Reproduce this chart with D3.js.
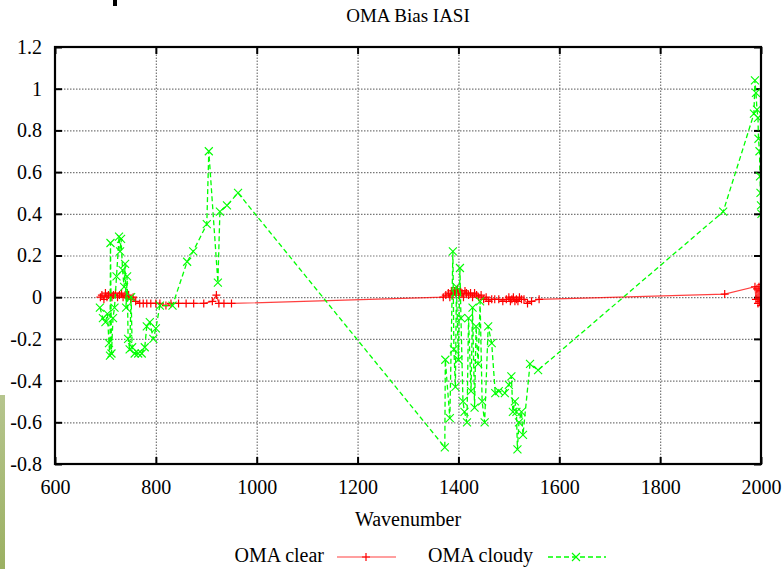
<!DOCTYPE html>
<html lang='en'>
  <head>
    <style type='text/css'>
      body {margin: 0; background-color: #fff;}
    </style>
  </head>
  <body>
    <svg id='chart' width='784' height='569' font-family='Liberation Serif'></svg>

    <script src='https://d3js.org/d3.v7.min.js'></script>
    <script type='text/javascript'>
        // Data
        var clearWave = [690, 693, 697, 700, 703, 706, 710, 713, 716, 720, 724, 728, 732, 735, 739, 742, 746, 750, 755, 760,
          768, 775, 782, 790, 800, 808, 820, 830, 845, 860, 875, 895, 912, 920, 925, 935, 950,
          1370, 1375, 1380, 1383, 1386, 1389, 1392, 1395, 1398, 1401, 1404, 1407, 1410, 1413, 1416, 1420, 1424, 1428,
          1432, 1436, 1440, 1445, 1450, 1455, 1460, 1466, 1472, 1480, 1488, 1495, 1500, 1503, 1506, 1509, 1512, 1515,
          1518, 1521, 1525, 1530, 1537, 1545, 1560, 1928, 1988, 1990, 1992, 1994, 1996, 1997, 1999, 2000, 2001];
        var clearBias = [0.0, 0.01, -0.01, 0.02, 0.0, 0.01, 0.02, 0.0, 0.01, 0.02, 0.0, 0.01, 0.02, 0.0, 0.01, 0.0, 0.01, -0.01, 0.0, -0.02,
          -0.03, -0.03, -0.03, -0.03, -0.03, -0.03, -0.04, -0.03, -0.03, -0.03, -0.03, -0.03, -0.02, 0.01, -0.03, -0.03, -0.03,
          0.0, 0.01, 0.02, 0.0, 0.03, 0.01, 0.03, 0.02, 0.04, 0.01, 0.03, 0.02, 0.0, 0.03, 0.02, 0.01, 0.02, 0.0,
          0.02, 0.01, 0.0, 0.01, -0.01, 0.0, -0.02, -0.01, -0.01, -0.01, -0.02, -0.01, 0.0, -0.02, -0.01, 0.0, -0.02, -0.01,
          -0.02, 0.0, -0.01, -0.01, -0.03, -0.02, -0.01, 0.015, 0.05, -0.01, 0.04, -0.03, 0.05, -0.02, 0.03, -0.04, 0.06];

        var cloudyWave = [689, 695, 700, 704, 707, 709, 710, 712, 715, 718, 722, 727, 729, 731, 734, 737, 739, 741, 743, 745,
          748, 751, 753, 758, 765, 772, 778, 782, 788, 795, 800, 808, 833, 862, 874, 901, 905, 923, 927, 941, 963,
          1373, 1374, 1383, 1389, 1391, 1394, 1396, 1400, 1403, 1405, 1409, 1412, 1417, 1420, 1425, 1428, 1432, 1435,
          1439, 1443, 1447, 1452, 1459, 1466, 1473, 1480, 1492, 1500, 1505, 1508, 1512, 1515, 1517, 1520, 1525, 1528,
          1542, 1558, 1925, 1986, 1988, 1990, 1992, 1994, 1995, 1997, 1998, 1999, 2000, 2001];
        var cloudyBias = [-0.05, -0.10, -0.12, -0.08, -0.22, -0.28, 0.26, -0.27, -0.10, -0.05, 0.10, 0.29, 0.22, 0.28, 0.13, 0.05, 0.16, -0.05, 0.10, -0.20,
          -0.25, 0.0, -0.24, -0.27, -0.27, -0.27, -0.24, -0.14, -0.12, -0.20, -0.15, -0.04, -0.04, 0.17, 0.22, 0.35, 0.70, 0.07, 0.41, 0.44, 0.50,
          -0.72, -0.30, -0.58, 0.22, -0.25, -0.43, 0.05, -0.30, 0.14, -0.10, -0.50, -0.55, -0.60, -0.10, -0.45, -0.05, -0.53, -0.14,
          -0.32, -0.02, -0.50, -0.60, -0.14, -0.22, -0.46, -0.45, -0.46, -0.42, -0.38, -0.55, -0.50, -0.55, -0.73, -0.60, -0.55, -0.66,
          -0.32, -0.35, 0.41, 0.88, 1.04, 0.98, 0.90, 0.86, 0.76, 0.70, 0.58, 0.50, 0.44, 0.40];

        var xTicks = [600, 800, 1000, 1200, 1400, 1600, 1800, 2000];
        var yTicks = [1.2, 1, 0.8, 0.6, 0.4, 0.2, 0, -0.2, -0.4, -0.6, -0.8];
        var yTickLabels = ["1.2", "1", "0.8", "0.6", "0.4", "0.2", "0", "-0.2", "-0.4", "-0.6", "-0.8"];
        var seriesNames = ["OMA clear", "OMA cloudy"];

        var svg = d3.select("#chart");
        var margin = {top: 47, right: 23, bottom: 105, left: 55};
        var width = 784 - margin.left - margin.right;
        var height = 569 - margin.top - margin.bottom;

        // page fragments around the chart
        svg.append("rect").attr("x", 113).attr("y", 0).attr("width", 4).attr("height", 6).attr("fill", "#000");
        var grad = svg.append("defs").append("linearGradient").attr("id", "bar").attr("x1", 0).attr("y1", 0).attr("x2", 0).attr("y2", 1);
        grad.append("stop").attr("offset", "0%").attr("stop-color", "#b6c58e");
        grad.append("stop").attr("offset", "100%").attr("stop-color", "#9bb062");
        svg.append("rect").attr("x", 0).attr("y", 395).attr("width", 5).attr("height", 174).attr("fill", "url(#bar)");

        var g = svg.append("g").attr("transform", "translate(" + margin.left + "," + margin.top + ")");

        var x = d3.scaleLinear().domain([600, 2000]).range([0, width]);
        var y = d3.scaleLinear().domain([-0.8, 1.2]).range([height, 0]);

        // grid
        g.append("g")
            .attr("class", "grid")
            .attr("transform", "translate(0," + height + ")")
            .call(d3.axisBottom(x).tickValues(xTicks.slice(1, -1)).tickSize(-height).tickFormat(""));
        g.append("g")
            .attr("class", "grid")
            .call(d3.axisLeft(y).tickValues(yTicks.slice(1, -1)).tickSize(-width).tickFormat(""));
        g.selectAll(".grid .domain").remove();
        g.selectAll(".grid line").attr("stroke", "#777").attr("stroke-width", 1.2).attr("stroke-dasharray", "1.5,1.5");

        // axes (ticks inward, mirrored)
        var fmt = function(d, i) { return yTickLabels[i]; };
        var bottom = g.append("g").attr("transform", "translate(0," + height + ")")
            .call(d3.axisBottom(x).tickValues(xTicks).tickSize(-7).tickPadding(16).tickFormat(d3.format("d")));
        var left = g.append("g")
            .call(d3.axisLeft(y).tickValues(yTicks).tickSize(-7).tickPadding(13).tickFormat(fmt));
        g.append("g").call(d3.axisTop(x).tickValues(xTicks).tickSize(-7).tickFormat(""));
        g.append("g").attr("transform", "translate(" + width + ",0)")
            .call(d3.axisRight(y).tickValues(yTicks).tickSize(-7).tickFormat(""));
        g.selectAll(".domain").attr("stroke", "none");
        g.selectAll(".tick line").filter(function() { return this.parentNode.parentNode.getAttribute("class") !== "grid"; })
            .attr("stroke", "#000").attr("stroke-width", 2);
        g.selectAll("g").attr("font-family", null);
        bottom.selectAll("text").attr("font-size", 20).attr("font-family", "Liberation Serif");
        left.selectAll("text").attr("font-size", 20).attr("font-family", "Liberation Serif").attr("dy", "0.32em");

        // clip
        svg.select("defs").append("clipPath").attr("id", "clip")
            .append("rect").attr("width", width).attr("height", height);
        var plot = g.append("g").attr("clip-path", "url(#clip)");

        var clear = clearWave.map(function(w, i) { return [w, clearBias[i]]; });
        var cloudy = cloudyWave.map(function(w, i) { return [w, cloudyBias[i]]; });
        var line = d3.line().x(function(d) { return x(d[0]); }).y(function(d) { return y(d[1]); });

        plot.append("path").datum(clear).attr("d", line)
            .attr("fill", "none").attr("stroke", "#ff0000").attr("stroke-width", 1.2).attr("stroke-opacity", 0.75);
        plot.selectAll(".plus").data(clear).enter().append("path")
            .attr("class", "plus")
            .attr("transform", function(d) { return "translate(" + x(d[0]) + "," + y(d[1]) + ")"; })
            .attr("d", "M-4,0H4M0,-4V4")
            .attr("stroke", "#ff0000").attr("stroke-width", 1.2).attr("fill", "none");

        plot.append("path").datum(cloudy).attr("d", line)
            .attr("fill", "none").attr("stroke", "#00ff00").attr("stroke-width", 1.3).attr("stroke-dasharray", "5,3");
        plot.selectAll(".cross").data(cloudy).enter().append("path")
            .attr("class", "cross")
            .attr("transform", function(d) { return "translate(" + x(d[0]) + "," + y(d[1]) + ")"; })
            .attr("d", "M-4,-4L4,4M-4,4L4,-4")
            .attr("stroke", "#00ff00").attr("stroke-width", 1.1).attr("fill", "none");

        // border
        g.append("rect").attr("width", width).attr("height", height)
            .attr("fill", "none").attr("stroke", "#000").attr("stroke-width", 2.2);

        // title and axis label
        svg.append("text").attr("x", 408).attr("y", 22).attr("text-anchor", "middle")
            .attr("font-family", "Liberation Serif").attr("font-size", 19).text("OMA Bias IASI");
        svg.append("text").attr("x", 408).attr("y", 526).attr("text-anchor", "middle")
            .attr("font-family", "Liberation Serif").attr("font-size", 20).text("Wavenumber");

        // legend
        var leg = svg.append("g").attr("font-family", "Liberation Serif");
        leg.append("text").attr("x", 324).attr("y", 562).attr("text-anchor", "end").attr("font-size", 20).text(seriesNames[0]);
        leg.append("line").attr("x1", 337).attr("x2", 396).attr("y1", 557).attr("y2", 557)
            .attr("stroke", "#ff0000").attr("stroke-width", 1.2).attr("stroke-opacity", 0.75);
        leg.append("path").attr("d", "M362,557H370M366,553V561").attr("stroke", "#ff0000").attr("stroke-width", 1.2);
        leg.append("text").attr("x", 533).attr("y", 562).attr("text-anchor", "end").attr("font-size", 20).text(seriesNames[1]);
        leg.append("line").attr("x1", 548).attr("x2", 606).attr("y1", 557).attr("y2", 557)
            .attr("stroke", "#00ff00").attr("stroke-width", 1.3).attr("stroke-dasharray", "5,3");
        leg.append("path").attr("d", "M572,553L580,561M572,561L580,553").attr("stroke", "#00ff00").attr("stroke-width", 1.1);
    </script>
  </body>
</html>
